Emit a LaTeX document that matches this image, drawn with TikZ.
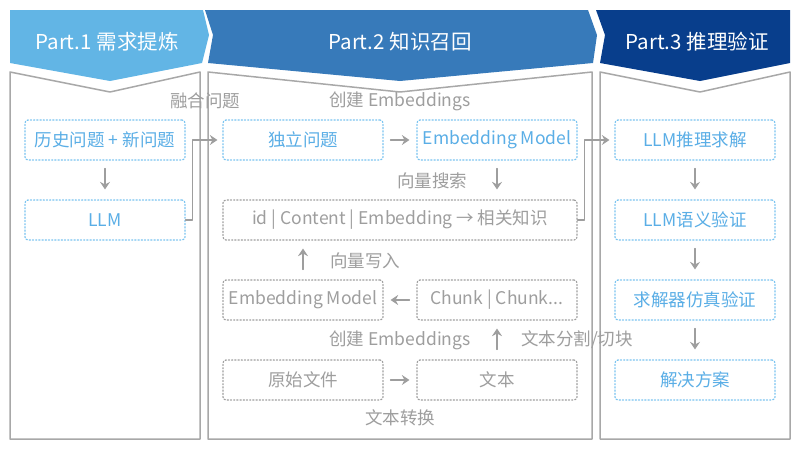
\documentclass[tikz,border=0pt]{standalone}
\usepackage{fontspec}
\setmainfont{Noto Sans CJK SC}
\usetikzlibrary{arrows.meta}
\definecolor{azulA}{RGB}{98,181,229}
\definecolor{azulB}{RGB}{55,122,186}
\definecolor{azulC}{RGB}{8,62,140}
\definecolor{txtazul}{RGB}{90,174,230}
\definecolor{bordeazul}{RGB}{120,195,240}
\definecolor{gris}{RGB}{158,158,158}
\definecolor{borde}{RGB}{168,168,168}

\begin{document}
\begin{tikzpicture}[line cap=round,line join=round,>={Stealth[length=7.5pt,width=10pt,inset=2.5pt]},x=1pt,y=-1pt,
		bluebox/.style={draw=bordeazul,dotted,line width=1.2pt,rounded corners=3pt,text=txtazul,minimum width=160pt,minimum height=40pt,font=\fontsize{17.5}{20}\selectfont},
		graybox/.style={bluebox,draw=gris,text=gris},
		etiqueta/.style={text=gris,font=\fontsize{17.5}{20}\selectfont},
		flecha/.style={->,draw=gris,line width=1.5pt},
		panel/.style={draw=borde,line width=1.5pt,fill=white},
		titulo/.style={text=white,font=\fontsize{20.5}{23}\selectfont}]
			\useasboundingbox (0,0) rectangle (800,450);
			%%%% CABECERAS
			\fill[azulA] (10,10) -- (203,10) -- (209,35) -- (202,63) -- (110,81) -- (10,63) -- cycle;
			\fill[azulB] (205,10) -- (588,10) -- (597,35) -- (593,63) -- (400,81) -- (208,63) -- (213,35) -- cycle;
			\fill[azulC] (596,10) -- (790,10) -- (790,63) -- (700,81) -- (600,63) -- (605,35) -- cycle;
			\node[titulo] (t1) at (107,42) {Part.1 需求提炼};
			\node[titulo] (t2) at (400,42) {Part.2 知识召回};
			\node[titulo] (t3) at (697,42) {Part.3 推理验证};
			
			%%%% PANELES
			\draw[panel] (10,72) -- (110,92) -- (200,72) -- (200,439) -- (10,439) -- cycle;
			\draw[panel] (208,72) -- (400,92) -- (592,72) -- (592,439) -- (208,439) -- cycle;
			\draw[panel] (600,72) -- (700,92) -- (790,72) -- (790,439) -- (600,439) -- cycle;
			
			%%%% PART 1
			\node[bluebox] (hist) at (105,140) {历史问题 + 新问题};
			\node[bluebox] (llm) at (105,220) {LLM};
			\draw[flecha] ([yshift=-8pt]hist.south) -- ([yshift=10pt]llm.north);
			
			%%%% PART 2
			\node[bluebox] (indep) at (303,140) {独立问题};
			\node[bluebox] (embA) at (497,140) {Embedding Model};
			\node[graybox,minimum width=354pt] (base) at (400,220) {id | Content | Embedding → 相关知识};
			\node[graybox] (embB) at (303,300) {Embedding Model};
			\node[graybox] (chunk) at (497,300) {Chunk | Chunk...};
			\node[graybox] (orig) at (303,380) {原始文件};
			\node[graybox] (texto) at (497,380) {文本};
			
			\node[etiqueta] (fus) at (205,101) {融合问题};
			\node[etiqueta] (creaA) at (400,101) {创建 Embeddings};
			\node[etiqueta] (busq) at (432,181) {向量搜索};
			\node[etiqueta] (escr) at (365,261) {向量写入};
			\node[etiqueta] (creaB) at (400,340) {创建 Embeddings};
			\node[etiqueta] (div) at (577,340) {文本分割/切块};
			\node[etiqueta] (conv) at (400,418) {文本转换};
			
			\draw[flecha] (llm.east) -- ++(7,0) |- ([xshift=-5pt]indep.west);
			\draw[flecha] ([xshift=7pt]indep.east) -- ([xshift=-7pt]embA.west);
			\draw[flecha] ([yshift=-8pt]embA.south) -- ([yshift=10pt]embA.south |- base.north);
			\draw[flecha] ([yshift=10pt]texto.north) -- ([yshift=-8pt]chunk.south);
			\draw[flecha] ([xshift=-7pt]chunk.west) -- ([xshift=7pt]embB.east);
			\draw[flecha] ([xshift=7pt]orig.east) -- ([xshift=-7pt]texto.west);
			\draw[flecha] ([yshift=10pt]embB.north) -- ([yshift=-8pt]embB.north |- base.south);
			
			%%%% PART 3
			\node[bluebox] (razon) at (695,140) {LLM推理求解};
			\node[bluebox] (semant) at (695,220) {LLM语义验证};
			\node[bluebox] (simul) at (695,300) {求解器仿真验证};
			\node[bluebox] (sol) at (695,380) {解决方案};
			\draw[flecha] (base.east) -- ++(7,0) |- ([xshift=-5pt]razon.west);
			\draw[flecha] ([yshift=-8pt]razon.south) -- ([yshift=10pt]semant.north);
			\draw[flecha] ([yshift=-8pt]semant.south) -- ([yshift=10pt]simul.north);
			\draw[flecha] ([yshift=-8pt]simul.south) -- ([yshift=10pt]sol.north);
		\end{tikzpicture}
\end{document}
